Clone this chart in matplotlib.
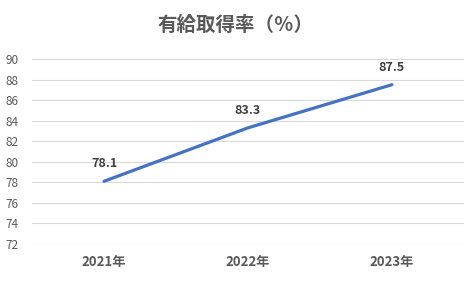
import matplotlib
matplotlib.use("Agg")
import matplotlib.pyplot as plt

plt.rcParams['font.family'] = ['Noto Sans CJK JP', 'DejaVu Sans']

categories = ["2021年", "2022年", "2023年"]
values = [78.1, 83.3, 87.5]
yticks = [72, 74, 76, 78, 80, 82, 84, 86, 88, 90]
title = "有給取得率（％）"

fig = plt.figure(figsize=(4.71, 2.85), dpi=100)
ax = fig.add_axes([0.068, 0.144, 0.917, 0.649])
x = list(range(len(categories)))
ax.plot(x, values, color="#4472C4", linewidth=2.3, solid_capstyle="round")
for xi, v in zip(x, values):
    ax.annotate(f"{v}", (xi, v), xytext=(0, 8), textcoords="offset points",
                ha="center", va="bottom", fontsize=9, fontweight="bold", color="#404040")
ax.set_xlim(-0.5, len(categories) - 0.5)
ax.set_ylim(72, 90)
ax.set_yticks(yticks)
ax.set_yticklabels([str(t) for t in yticks], fontsize=8.5, color="#595959")
ax.set_xticks(x)
ax.set_xticklabels(categories, fontsize=9.5, fontweight="bold", color="#595959")
ax.grid(axis="y", color="#D9D9D9", linewidth=0.8)
ax.set_axisbelow(True)
for s in ax.spines.values():
    s.set_visible(False)
ax.tick_params(axis="both", length=0)
ax.tick_params(axis="y", pad=10)
ax.tick_params(axis="x", pad=8)
fig.text(0.5, 0.91, title, ha="center", va="center", fontsize=14, fontweight="bold", color="#595959")
fig.savefig("out.png", dpi=100)
